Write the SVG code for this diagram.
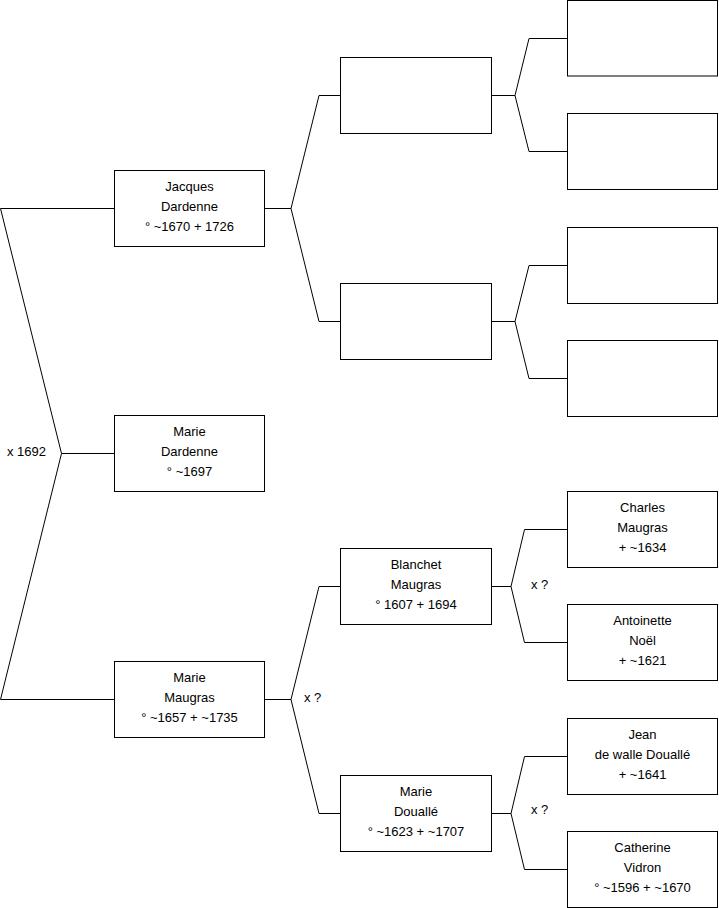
<svg xmlns="http://www.w3.org/2000/svg" width="719" height="908" viewBox="0 0 719 908">
<style>
.box{fill:#fff;stroke:#000;stroke-width:1}
.c{fill:none;stroke:#000;stroke-width:1}
text{font-family:"Liberation Sans",Arial,sans-serif;font-size:13px;fill:#000}
.n{text-anchor:middle}
</style>
<rect width="719" height="908" fill="#fff"/>
<g id="connectors">
<path class="c" d="M0.5,208.5H114.5M0.5,208.5L61.5,453.5L0.5,699.5H114.5M61.5,453.5H114.5"/>
<path class="c" d="M264.5,208.5H291L319,95.5H340.5M291,208.5L319,321.5H340.5"/>
<path class="c" d="M264.5,699.5H291L319,586.5H340.5M291,699.5L319,813.5H340.5"/>
<path class="c" d="M491.5,95.5H515L529,38.5H567.5M515,95.5L529,151.5H567.5"/>
<path class="c" d="M491.5,321.5H515L529,265.5H567.5M515,321.5L529,378.5H567.5"/>
<path class="c" d="M491.5,586.5H511L524.5,529.5H567.5M511,586.5L524.5,642.5H567.5"/>
<path class="c" d="M491.5,813.5H511L524.5,756.5H567.5M511,813.5L524.5,869.5H567.5"/>
</g>
<g id="labels">
<text x="7" y="456">x 1692</text>
<text x="304" y="702">x ?</text>
<text x="531" y="589">x ?</text>
<text x="531" y="814">x ?</text>
</g>
<g id="jacques-dardenne"><rect class="box" x="114.5" y="170.5" width="150" height="76"/>
<text class="n" x="189.5" y="191">Jacques</text><text class="n" x="189.5" y="211">Dardenne</text><text class="n" x="189.5" y="231">° ~1670 + 1726</text></g>
<g id="marie-dardenne"><rect class="box" x="114.5" y="415.5" width="150" height="76"/>
<text class="n" x="189.5" y="436">Marie</text><text class="n" x="189.5" y="456">Dardenne</text><text class="n" x="189.5" y="476">° ~1697</text></g>
<g id="marie-maugras"><rect class="box" x="114.5" y="661.5" width="150" height="76"/>
<text class="n" x="189.5" y="682">Marie</text><text class="n" x="189.5" y="702">Maugras</text><text class="n" x="189.5" y="722">° ~1657 + ~1735</text></g>
<g id="p1"><rect class="box" x="340.5" y="57.5" width="151" height="76"/></g>
<g id="p2"><rect class="box" x="340.5" y="283.5" width="151" height="76"/></g>
<g id="blanchet-maugras"><rect class="box" x="340.5" y="548.5" width="151" height="76"/>
<text class="n" x="416" y="569">Blanchet</text><text class="n" x="416" y="589">Maugras</text><text class="n" x="416" y="609">° 1607 + 1694</text></g>
<g id="marie-doualle"><rect class="box" x="340.5" y="775.5" width="151" height="76"/>
<text class="n" x="416" y="796">Marie</text><text class="n" x="416" y="816">Douallé</text><text class="n" x="416" y="836">° ~1623 + ~1707</text></g>
<g id="g1"><rect class="box" x="567.5" y="0.5" width="150" height="75.5"/></g>
<g id="g2"><rect class="box" x="567.5" y="113.5" width="150" height="76"/></g>
<g id="g3"><rect class="box" x="567.5" y="227.5" width="150" height="76"/></g>
<g id="g4"><rect class="box" x="567.5" y="340.5" width="150" height="76"/></g>
<g id="charles-maugras"><rect class="box" x="567.5" y="491.5" width="150" height="76"/>
<text class="n" x="642.5" y="512">Charles</text><text class="n" x="642.5" y="532">Maugras</text><text class="n" x="642.5" y="552">+ ~1634</text></g>
<g id="antoinette-noel"><rect class="box" x="567.5" y="604.5" width="150" height="76"/>
<text class="n" x="642.5" y="625">Antoinette</text><text class="n" x="642.5" y="645">Noël</text><text class="n" x="642.5" y="665">+ ~1621</text></g>
<g id="jean-doualle"><rect class="box" x="567.5" y="718.5" width="150" height="76"/>
<text class="n" x="642.5" y="739">Jean</text><text class="n" x="642.5" y="759">de walle Douallé</text><text class="n" x="642.5" y="779">+ ~1641</text></g>
<g id="catherine-vidron"><rect class="box" x="567.5" y="831.5" width="150" height="76"/>
<text class="n" x="642.5" y="852">Catherine</text><text class="n" x="642.5" y="872">Vidron</text><text class="n" x="642.5" y="892">° ~1596 + ~1670</text></g>
</svg>
